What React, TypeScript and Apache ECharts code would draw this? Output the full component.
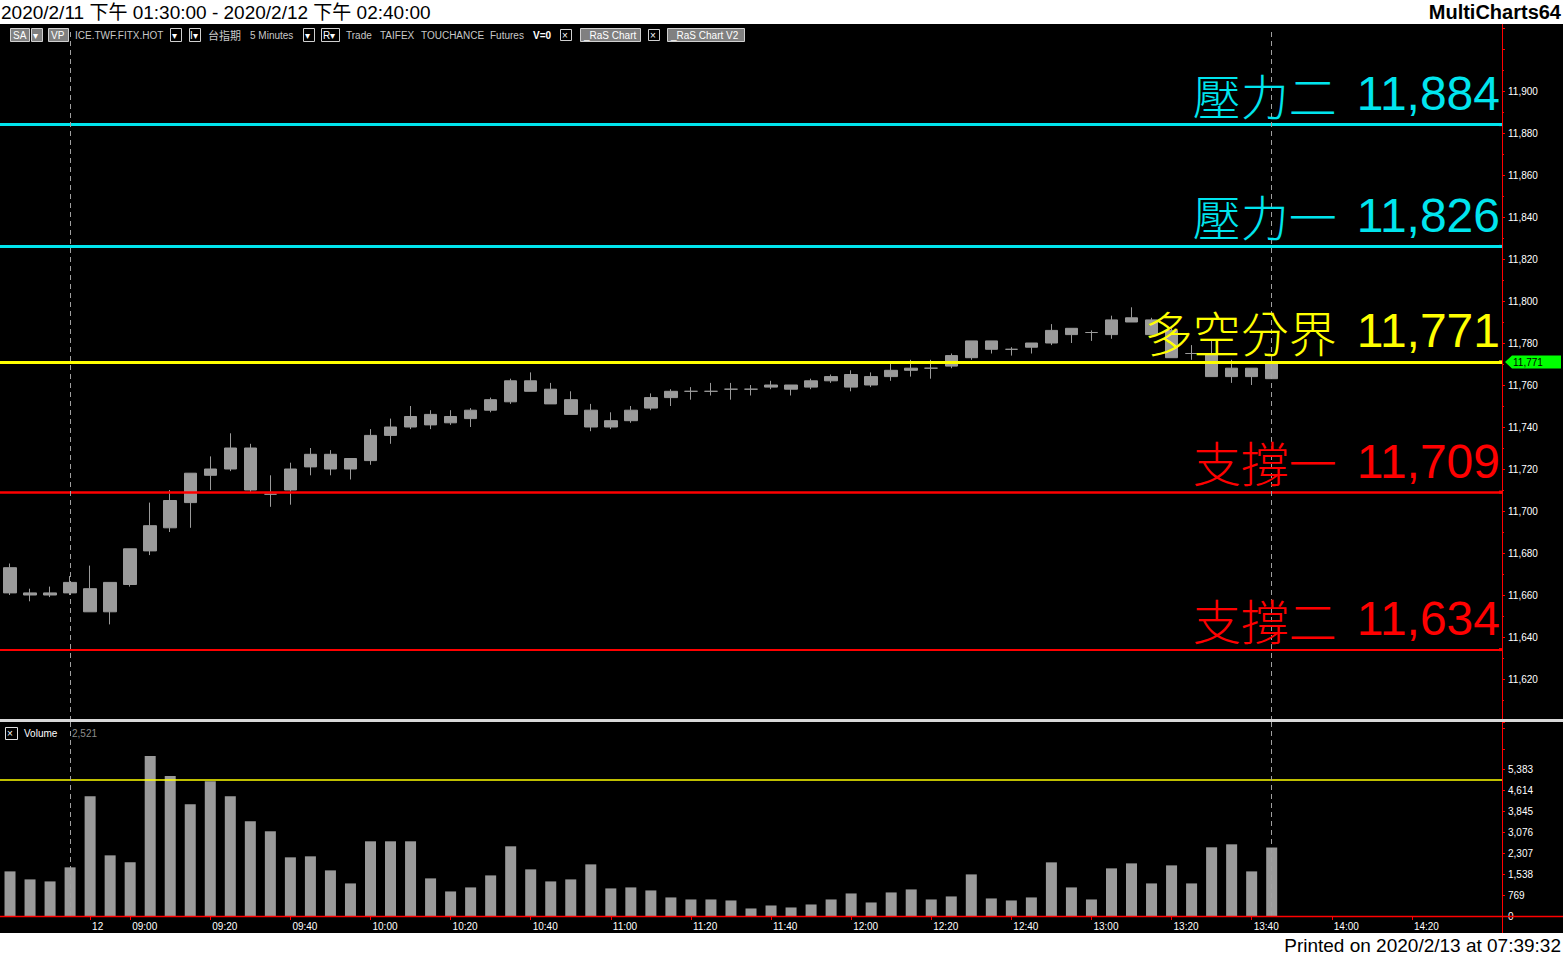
import React, { useEffect, useRef } from 'react';
import * as echarts from 'echarts';

// ---------- data ----------
const categories = [
  '13:30', '13:35', '13:40', '13:45',
  '08:50', '08:55',
  '09:00', '09:05', '09:10', '09:15', '09:20', '09:25', '09:30', '09:35', '09:40', '09:45', '09:50', '09:55',
  '10:00', '10:05', '10:10', '10:15', '10:20', '10:25', '10:30', '10:35', '10:40', '10:45', '10:50', '10:55',
  '11:00', '11:05', '11:10', '11:15', '11:20', '11:25', '11:30', '11:35', '11:40', '11:45', '11:50', '11:55',
  '12:00', '12:05', '12:10', '12:15', '12:20', '12:25', '12:30', '12:35', '12:40', '12:45', '12:50', '12:55',
  '13:00', '13:05', '13:10', '13:15', '13:20', '13:25', '13:30', '13:35', '13:40', '13:45', '13:50', '13:55',
  '14:00', '14:05', '14:10', '14:15', '14:20', '14:25', '14:30', '14:35', '14:40',
];
const dateBreakIndex = 4;
const dateBreakLabel = '12';
const xTickTimes = ['09:00', '09:20', '09:40', '10:00', '10:20', '10:40', '11:00', '11:20', '11:40',
  '12:00', '12:20', '12:40', '13:00', '13:20', '13:40', '14:00', '14:20'];

const opens = [
  11673, 11661, 11660, 11661, 11663, 11652, 11665, 11681, 11692, 11704,
  11717, 11720, 11730, 11708, 11710, 11721, 11727, 11720, 11724, 11736,
  11740, 11746, 11742, 11744, 11748, 11752, 11762, 11758, 11753, 11748,
  11740, 11743, 11749, 11754, 11757, 11757, 11758, 11758, 11759, 11760,
  11759, 11762, 11765, 11760, 11764, 11767, 11768, 11769, 11773, 11781,
  11777, 11778, 11780, 11787, 11785, 11784, 11792, 11791, 11786, 11775,
  11775, 11764, 11768, 11763,
];
const closes = [
  11661, 11660, 11661, 11666, 11652, 11666, 11682, 11693, 11705, 11718,
  11720, 11730, 11710, 11708, 11720, 11727, 11720, 11725, 11736, 11740,
  11745, 11741, 11745, 11748, 11753, 11762, 11757, 11751, 11746, 11740,
  11743, 11748, 11754, 11757, 11757, 11757, 11758, 11758, 11760, 11758,
  11762, 11764, 11759, 11764, 11767, 11768, 11768, 11774, 11781, 11777,
  11777, 11780, 11786, 11784, 11785, 11791, 11790, 11784, 11773, 11775,
  11764, 11768, 11764, 11771,
];
const lows = [
  11660, 11657, 11659, 11660, 11652, 11646, 11664, 11679, 11690, 11692,
  11710, 11719, 11709, 11702, 11703, 11717, 11717, 11715, 11722, 11732,
  11739, 11739, 11741, 11740, 11747, 11751, 11757, 11751, 11746, 11738,
  11739, 11742, 11748, 11750, 11753, 11755, 11753, 11755, 11758, 11755,
  11758, 11761, 11757, 11759, 11762, 11764, 11763, 11768, 11772, 11775,
  11774, 11775, 11779, 11780, 11781, 11782, 11790, 11784, 11773, 11772,
  11764, 11761, 11760, 11763,
];
const highs = [
  11675, 11663, 11664, 11669, 11674, 11666, 11682, 11704, 11710, 11718,
  11726, 11737, 11732, 11717, 11723, 11730, 11729, 11725, 11739, 11744,
  11750, 11748, 11748, 11749, 11754, 11763, 11766, 11761, 11757, 11751,
  11747, 11750, 11756, 11758, 11759, 11761, 11761, 11760, 11762, 11760,
  11763, 11765, 11767, 11766, 11770, 11772, 11772, 11775, 11781, 11781,
  11778, 11780, 11789, 11787, 11786, 11793, 11797, 11792, 11787, 11779,
  11781, 11772, 11768, 11772,
];
const volumes = [
  1642, 1347, 1273, 1790, 4410, 2232, 1974, 5886, 5148, 4114,
  4963, 4410, 3487, 3118, 2159, 2196, 1679, 1199, 2749, 2749,
  2749, 1384, 904, 1052, 1494, 2565, 1716, 1273, 1347, 1900,
  1015, 1052, 941, 683, 609, 609, 572, 277, 387, 314,
  424, 609, 830, 498, 867, 978, 609, 720, 1531, 646,
  572, 683, 1974, 1052, 609, 1753, 1937, 1199, 1863, 1199,
  2528, 2638, 1642, 2521,
];
const volumeRefLine = 5030;

const levelNames = ['壓力二', '壓力一', '多空分界', '支撐一', '支撐二'];
const levelValues = [11884, 11826, 11771, 11709, 11634];
const tagLevelIndex = 2;
const sessionMarkIndices = [3, 63];

const priceMin = 11600;
const priceMax = 11930;
const priceStep = 20;
const priceLabelMin = 11620;
const priceLabelMax = 11900;
const volMax = 7140;
const volStep = 769;
const volLabelMax = 5383;

// ---------- styles ----------
const levelColors = ['#00e5ee', '#00e5ee', '#ffff00', '#ff0000', '#ff0000'];
const levelWidths = [3, 3, 3, 2.5, 2];
const FONT = "'Liberation Sans', Arial, 'Noto Sans CJK TC', sans-serif";
const NUMFONT = "'Liberation Sans', Arial, sans-serif";
const CJK = "'Noto Sans CJK TC', 'Noto Sans CJK SC', sans-serif";
const CANDLE = '#9a9a9a';
const RED = '#ff0000';

const fmt = (v: number) => v.toLocaleString('en-US');

function txt(text: string, x: number, y: number, fill: string, font: string, align = 'left', z = 100) {
  return {
    type: 'text',
    silent: true,
    z,
    style: {
      text, x, y, fill, font,
      align, verticalAlign: 'middle', textAlign: align, textVerticalAlign: 'middle',
    },
  };
}
function box(x: number, y: number, w: number, h: number, fill: string, stroke: string) {
  return {
    type: 'rect', silent: true, z: 99,
    shape: { x: x + 0.5, y: y + 0.5, width: w, height: h },
    style: { fill, stroke, lineWidth: 1 },
  };
}

export default function App() {
  const ref = useRef<HTMLDivElement>(null);
  useEffect(() => {
    document.body.style.margin = '0';
    const chart = echarts.init(ref.current!, null, { renderer: 'svg' });

    const ohlc = opens.map((o, i) => [o, closes[i], lows[i], highs[i]]);
    const showTick = (i: number, v: string) =>
      i === dateBreakIndex || (i > dateBreakIndex && xTickTimes.indexOf(v) >= 0);

    const levelLines = levelValues.map((v, i) => ({
      yAxis: v,
      lineStyle: { color: levelColors[i], width: levelWidths[i], type: 'solid' },
      label: {
        show: true,
        position: 'insideEndTop',
        distance: [2, 7],
        formatter: `{c|${levelNames[i]}}{s| }{n|${fmt(v)}}`,
        rich: {
          c: { fontFamily: CJK, fontSize: 48, color: levelColors[i], fontWeight: 300 },
          s: { fontSize: 20, width: 20 },
          n: { fontFamily: NUMFONT, fontSize: 48, color: levelColors[i] },
        },
      },
    }));
    const vLines = sessionMarkIndices.map((i) => ({
      xAxis: i,
      lineStyle: { color: '#a0a0a0', width: 1, type: [5, 4] },
      label: { show: false },
    }));

    const toolbarFont = `10px ${FONT}`;
    const gray = '#c8c8c8';
    const graphic: any[] = [
      // top title bar texts
      txt('2020/2/11 下午 01:30:00 - 2020/2/12 下午 02:40:00', 1, 12, '#000', `19px ${FONT}`),
      txt('MultiCharts64', 1561, 12, '#000', `bold 20px ${FONT}`, 'right'),
      txt('Printed on 2020/2/13 at 07:39:32', 1561, 945, '#000', `19px ${FONT}`, 'right'),
      // toolbar
      box(10, 28, 19, 13, '#808080', '#d0d0d0'), txt('SA', 13, 35, '#fff', toolbarFont),
      box(31, 28, 11, 13, '#808080', '#d0d0d0'), txt('▾', 33, 35, '#fff', toolbarFont),
      box(48, 28, 20, 13, '#808080', '#d0d0d0'), txt('VP', 51, 35, '#fff', toolbarFont),
      txt('ICE.TWF.FITX.HOT', 75, 35, gray, toolbarFont),
      box(170, 28, 11, 13, '#000', '#d0d0d0'), txt('▾', 172, 35, '#fff', toolbarFont),
      box(189, 28, 11, 13, '#000', '#d0d0d0'), txt('I▾', 190, 35, '#fff', toolbarFont),
      txt('台指期', 208, 35, gray, `11px ${CJK}`),
      txt('5 Minutes', 250, 35, gray, toolbarFont),
      box(303, 28, 11, 13, '#000', '#d0d0d0'), txt('▾', 305, 35, '#fff', toolbarFont),
      box(321, 28, 18, 13, '#000', '#d0d0d0'), txt('R▾', 323, 35, '#fff', toolbarFont),
      txt('Trade', 346, 35, gray, toolbarFont),
      txt('TAIFEX', 380, 35, gray, toolbarFont),
      txt('TOUCHANCE', 421, 35, gray, toolbarFont),
      txt('Futures', 490, 35, gray, toolbarFont),
      txt('V=0', 533, 35, '#fff', `bold 10px ${FONT}`),
      box(560, 29, 11, 11, '#000', '#d0d0d0'), txt('×', 562, 35, '#fff', toolbarFont),
      box(580, 28, 60, 13, '#808080', '#d0d0d0'), txt('_RaS Chart', 584, 35, '#fff', toolbarFont),
      box(648, 29, 11, 11, '#000', '#d0d0d0'), txt('×', 650, 35, '#fff', toolbarFont),
      box(667, 28, 77, 13, '#808080', '#d0d0d0'), txt('_RaS Chart V2', 671, 35, '#fff', toolbarFont),
      // pane separator
      { type: 'rect', silent: true, z: 98, shape: { x: 0, y: 719, width: 1563, height: 3 }, style: { fill: '#d8d8d8' } },
      // red frame lines
      { type: 'line', silent: true, z: 97, shape: { x1: 1502.5, y1: 24, x2: 1502.5, y2: 933 }, style: { stroke: RED, lineWidth: 1 } },
      { type: 'line', silent: true, z: 97, shape: { x1: 0, y1: 916.5, x2: 1563, y2: 916.5 }, style: { stroke: RED, lineWidth: 1.5 } },
      // volume header
      box(5, 727, 12, 12, '#000', '#e0e0e0'), txt('×', 7, 733, '#fff', toolbarFont),
      txt('Volume', 24, 733, '#fff', toolbarFont),
      txt(fmt(volumes[volumes.length - 1]), 72, 733, '#8c8c8c', toolbarFont),
    ];

    const option: any = {
      animation: false,
      backgroundColor: 'transparent',
      textStyle: { fontFamily: FONT },
      grid: [
        { left: 0, width: 1502, top: 28, height: 693 },
        { left: 0, width: 1502, top: 722, height: 194 },
      ],
      xAxis: [
        {
          gridIndex: 0, type: 'category', data: categories, boundaryGap: true,
          axisLine: { show: false }, axisTick: { show: false }, axisLabel: { show: false }, splitLine: { show: false },
        },
        {
          gridIndex: 1, type: 'category', data: categories, boundaryGap: true,
          axisLine: { show: true, lineStyle: { color: RED, width: 1 } },
          axisTick: { show: true, alignWithLabel: true, interval: showTick, length: 4, lineStyle: { color: RED } },
          axisLabel: {
            show: true, interval: showTick, color: '#fff', fontSize: 10, fontFamily: FONT,
            align: 'left', margin: 5, padding: [0, 0, 0, 2],
            formatter: (v: string, i: number) => (i === dateBreakIndex ? dateBreakLabel : v),
          },
          splitLine: { show: false },
        },
      ],
      yAxis: [
        {
          gridIndex: 0, type: 'value', position: 'right', min: priceMin, max: priceMax, interval: priceStep,
          axisLine: { show: true, lineStyle: { color: RED } },
          axisTick: { show: true, length: 3, lineStyle: { color: RED } },
          minorTick: { show: true, splitNumber: 2, length: 2, lineStyle: { color: RED } },
          splitLine: { show: false },
          axisLabel: {
            color: '#fff', fontSize: 10, fontFamily: FONT, margin: 6,
            formatter: (v: number) => (v < priceLabelMin || v > priceLabelMax ? '' : fmt(v)),
          },
        },
        {
          gridIndex: 1, type: 'value', position: 'right', min: 0, max: volMax, interval: volStep,
          axisLine: { show: true, lineStyle: { color: RED } },
          axisTick: { show: true, length: 3, lineStyle: { color: RED } },
          splitLine: { show: false },
          axisLabel: {
            color: '#fff', fontSize: 10, fontFamily: FONT, margin: 6,
            formatter: (v: number) => (v > volLabelMax ? '' : fmt(v)),
          },
        },
      ],
      series: [
        {
          type: 'candlestick',
          xAxisIndex: 0, yAxisIndex: 0,
          data: ohlc,
          barWidth: 13,
          itemStyle: { color: CANDLE, color0: CANDLE, borderColor: CANDLE, borderColor0: CANDLE, borderWidth: 1 },
          markLine: {
            silent: true, symbol: ['none', 'none'], animation: false,
            data: [...levelLines, ...vLines],
          },
        },
        {
          type: 'bar',
          xAxisIndex: 1, yAxisIndex: 1,
          data: volumes,
          barWidth: 11,
          itemStyle: { color: CANDLE },
          markLine: {
            silent: true, symbol: ['none', 'none'], animation: false,
            data: [
              { yAxis: volumeRefLine, lineStyle: { color: '#ffff00', width: 1.5, type: 'solid' }, label: { show: false } },
              ...vLines,
            ],
          },
        },
      ],
      graphic: { elements: graphic },
    };
    chart.setOption(option);

    // axis-attached markers placed through the price scale
    const axisX = 1502;
    const extra: any[] = [];
    levelValues.forEach((v, i) => {
      const y = chart.convertToPixel({ yAxisIndex: 0 }, v) as number;
      extra.push({
        type: 'rect', silent: true, z: 101,
        shape: { x: axisX - 3, y: y - 1.5, width: 3, height: 3 },
        style: { fill: levelColors[i] },
      });
    });
    const tagValue = levelValues[tagLevelIndex];
    const ty = chart.convertToPixel({ yAxisIndex: 0 }, tagValue) as number;
    extra.push({
      type: 'polygon', silent: true, z: 101,
      shape: { points: [[axisX + 3, ty], [axisX + 10, ty - 6.5], [1561, ty - 6.5], [1561, ty + 6.5], [axisX + 10, ty + 6.5]] },
      style: { fill: '#00ff00' },
    });
    extra.push(txt(fmt(tagValue), axisX + 11, ty + 0.5, '#000', `10px ${FONT}`, 'left', 110));
    chart.setOption({ graphic: { elements: [...graphic, ...extra] } });

    return () => chart.dispose();
  }, []);

  return (
    <div style={{ position: 'fixed', left: 0, top: 0, width: 1563, height: 956, background: '#fff', overflow: 'hidden' }}>
      <div style={{ position: 'absolute', left: 0, top: 24, width: 1563, height: 909, background: '#000' }} />
      <div ref={ref} style={{ position: 'absolute', left: 0, top: 0, width: 1563, height: 956 }} />
    </div>
  );
}
